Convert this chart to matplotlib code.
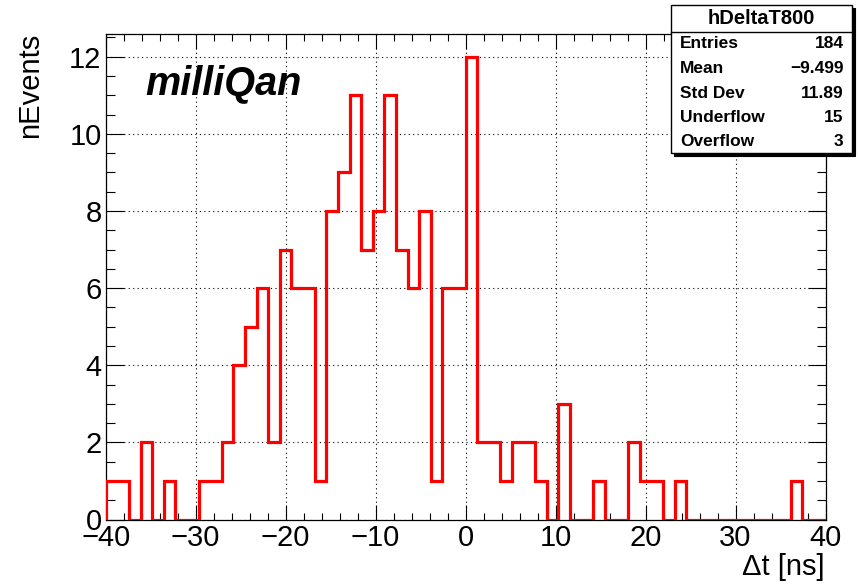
import numpy as np
import matplotlib
matplotlib.use("Agg")
import matplotlib.pyplot as plt
from matplotlib.patches import Rectangle
from matplotlib.lines import Line2D
from matplotlib.ticker import MultipleLocator

# ---- data ----
hist_name = "hDeltaT800"
x_min, x_max, n_bins = -40.0, 40.0, 62
counts = [1, 1, 0, 2, 0, 1, 0, 0, 1, 1,
          2, 4, 5, 6, 2, 7, 6, 6, 1, 8,
          9, 11, 7, 8, 11, 7, 6, 8, 1, 6,
          6, 12, 2, 2, 1, 2, 2, 1, 0, 3,
          0, 0, 1, 0, 0, 2, 1, 1, 0, 1,
          0, 0, 0, 0, 0, 0, 0, 0, 0, 1,
          0, 0]
stat_labels = ["Entries", "Mean", "Std Dev", "Underflow", "Overflow"]
stat_values = ["184", "\u22129.499", "11.89", "15", "3"]
x_label = "\u0394t [ns]"
y_label = "nEvents"
tag_text = "milliQan"

W, H = 858, 584
plt.rcParams['font.family'] = ['Liberation Sans', 'DejaVu Sans']
fig = plt.figure(figsize=(W / 100, H / 100), dpi=100)

def fx(px):
    return px / W

def fy(py):
    return 1 - py / H

left, right, top, bottom = 105.7, 825.5, 33.5, 519.5
ax = fig.add_axes([fx(left), fy(bottom), fx(right) - fx(left), fy(top) - fy(bottom)])

edges = np.linspace(x_min, x_max, n_bins + 1)
ax.stairs(counts, edges, color='#ff0000', linewidth=2.3, baseline=0, zorder=3)

ax.set_xlim(x_min, x_max)
ax.set_ylim(0, 12.6)
ax.xaxis.set_major_locator(MultipleLocator(10))
ax.xaxis.set_minor_locator(MultipleLocator(2))
ax.yaxis.set_major_locator(MultipleLocator(2))
ax.yaxis.set_minor_locator(MultipleLocator(0.5))
ax.tick_params(which='both', direction='in', top=True, right=True, width=0.8,
               labelsize=21, colors='black')
ax.tick_params(axis='x', which='major', length=10.5, pad=3)
ax.tick_params(axis='x', which='minor', length=5)
ax.tick_params(axis='y', which='major', length=13, pad=3)
ax.tick_params(axis='y', which='minor', length=6.5)
ax.grid(True, which='major', color='black', linewidth=0.8, linestyle=(0, (1, 3)))
for s in ax.spines.values():
    s.set_linewidth(0.9)

fig.text(fx(30), fy(33), y_label, rotation=90, ha='center', va='top', fontsize=21)
fig.text(fx(825), fy(575), x_label, ha='right', va='baseline', fontsize=21)
fig.text(fx(145), fy(94), tag_text, ha='left', va='baseline', fontsize=28.5,
         fontweight='bold', fontstyle='italic')

# stats box
bl, br, bt, bb = 671, 852, 5, 153
shadow = Rectangle((fx(bl + 3), fy(bb + 3)), fx(br) - fx(bl), fy(bt) - fy(bb),
                   transform=fig.transFigure, facecolor='black', edgecolor='black',
                   linewidth=0.8, zorder=9)
box = Rectangle((fx(bl), fy(bb)), fx(br) - fx(bl), fy(bt) - fy(bb),
                transform=fig.transFigure, facecolor='white', edgecolor='black',
                linewidth=1.0, zorder=10)
fig.add_artist(shadow)
fig.add_artist(box)
fig.add_artist(Line2D([fx(bl), fx(br)], [fy(31.5), fy(31.5)], transform=fig.transFigure,
                      color='black', linewidth=1.0, zorder=11))
fig.text(fx((bl + br) / 2), fy(18.5), hist_name, ha='center', va='center',
         fontsize=14.5, fontweight='bold', zorder=12)
row_y = [43.5, 68.5, 93, 117.5, 142]
for lab, val, yy in zip(stat_labels, stat_values, row_y):
    fig.text(fx(680), fy(yy), lab, ha='left', va='center', fontsize=12.5,
             fontweight='bold', zorder=12)
    fig.text(fx(843.5), fy(yy), val, ha='right', va='center', fontsize=12.5,
             fontweight='bold', zorder=12)

fig.savefig("out.png", dpi=100)
